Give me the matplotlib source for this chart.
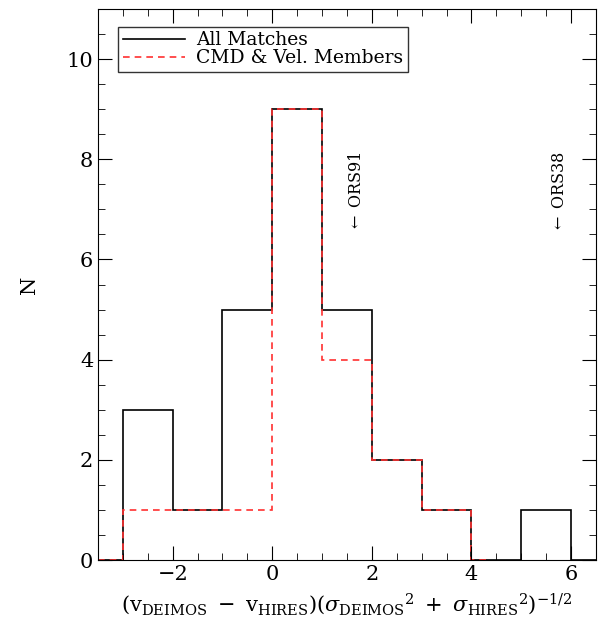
import numpy as np
import matplotlib.pyplot as plt
from matplotlib.ticker import MultipleLocator

# bin edges and counts
edges_all = [-3.5, -3, -2, -1, 0, 1, 2, 3, 4, 5, 6, 6.5]
counts_all = [0, 3, 1, 5, 9, 5, 2, 1, 0, 1, 0]

edges_mem = [-3.5, -3, -2, -1, 0, 1, 2, 3, 4, 4.4]
counts_mem = [0, 1, 1, 1, 9, 4, 2, 1, 0]

notes = ['$\\leftarrow$ ORS91', '$\\leftarrow$ ORS38']
note_x = [1.7, 5.76]
note_y = [7.35, 7.35]

plt.rcParams['font.family'] = 'DejaVu Serif'
plt.rcParams['mathtext.fontset'] = 'dejavuserif'

fig = plt.figure(figsize=(6.06, 6.39), dpi=100)
ax = fig.add_axes([0.1617, 0.1236, 0.8218, 0.8623])

ax.stairs(counts_all, edges_all, color='black', lw=1.2, label='All Matches')
ax.stairs(counts_mem, edges_mem, color='#ff3030', lw=1.2, ls=(0, (4, 3)),
          label='CMD & Vel. Members')

for t, x, y in zip(notes, note_x, note_y):
    ax.text(x, y, t, rotation=90, ha='center', va='center', fontsize=11.5)

ax.set_xlim(-3.5, 6.5)
ax.set_ylim(0, 11)
ax.xaxis.set_major_locator(MultipleLocator(2))
ax.xaxis.set_minor_locator(MultipleLocator(0.5))
ax.yaxis.set_major_locator(MultipleLocator(2))
ax.yaxis.set_minor_locator(MultipleLocator(0.5))
ax.tick_params(which='both', direction='in', top=True, right=True, labelsize=15)
ax.tick_params(which='major', length=10)
ax.tick_params(which='minor', length=5)

ax.set_ylabel('N', fontsize=15, labelpad=20)
ax.set_xlabel(r'$(\mathrm{v}_{\mathrm{DEIMOS}}\ -\ \mathrm{v}_{\mathrm{HIRES}})'
              r'(\sigma_{\mathrm{DEIMOS}}{}^{2}\ +\ \sigma_{\mathrm{HIRES}}{}^{2})^{-1/2}$',
              fontsize=15, labelpad=5)

leg = ax.legend(loc='upper left', fontsize=13.5, fancybox=False, edgecolor='black',
                handlelength=3.3, handletextpad=0.6, borderpad=0.25, labelspacing=0.0,
                bbox_to_anchor=(0.022, 0.985))
leg.get_frame().set_linewidth(1.0)

fig.savefig('out.png', dpi=100)
